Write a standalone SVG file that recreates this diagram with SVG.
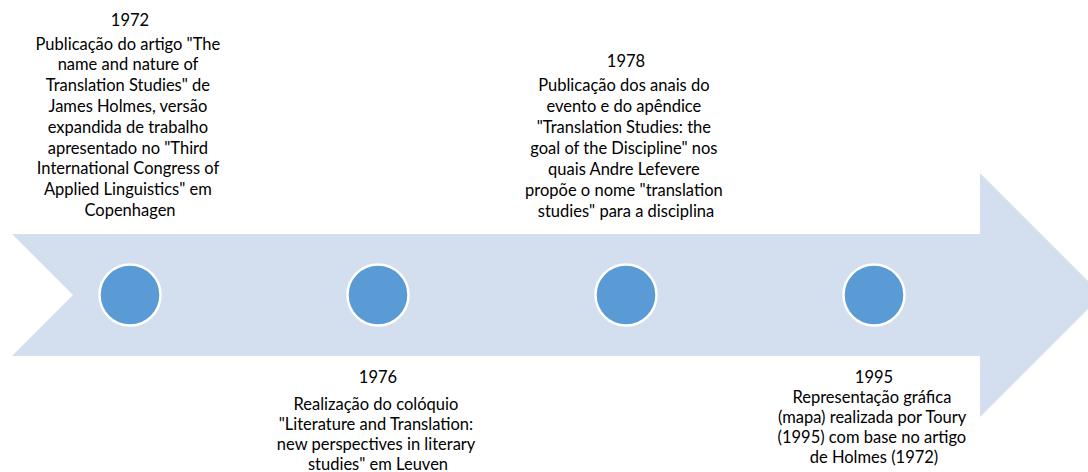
<svg xmlns="http://www.w3.org/2000/svg" width="1088" height="472" viewBox="0 0 1088 472">
  <style>
    .band { fill: #D3DEEF; }
    .dot { fill: #5B9BD5; stroke: #FFFFFF; stroke-width: 2.5; }
    .lbl { font-family: Lato, "Liberation Sans", sans-serif; font-size: 16.5px; fill: #000000; text-anchor: middle; }
  </style>

  <!-- timeline band: notched tail, wide arrow head running off the right edge -->
  <g id="timeline">
    <polygon class="band" points="12,234 980,234 980,173 1102,295 980,417 980,356 12,356 73,295"/>
  </g>

  <!-- milestone markers -->
  <g id="m1972"><circle class="dot" cx="130" cy="295" r="30.5"/></g>
  <g id="m1976"><circle class="dot" cx="378" cy="295" r="30.5"/></g>
  <g id="m1978"><circle class="dot" cx="626" cy="295" r="30.5"/></g>
  <g id="m1995"><circle class="dot" cx="874" cy="295" r="30.5"/></g>

  <!-- milestone texts -->
  <g id="t1972">
    <text class="lbl" x="130" y="26">1972</text>
    <text class="lbl" x="130" y="49.5">
      <tspan x="130" dy="0">Publicação do artigo "The</tspan>
      <tspan x="130" dy="20.8">name and nature of</tspan>
      <tspan x="130" dy="20.8">Translation Studies" de</tspan>
      <tspan x="130" dy="20.8">James Holmes, versão</tspan>
      <tspan x="130" dy="20.8">expandida de trabalho</tspan>
      <tspan x="130" dy="20.8">apresentado no "Third</tspan>
      <tspan x="130" dy="20.8">International Congress of</tspan>
      <tspan x="130" dy="20.8">Applied Linguistics" em</tspan>
      <tspan x="130" dy="20.8">Copenhagen</tspan>
    </text>
  </g>

  <g id="t1976">
    <text class="lbl" x="378" y="382.5">1976</text>
    <text class="lbl" x="378" y="410">
      <tspan x="378" dy="0">Realização do colóquio</tspan>
      <tspan x="378" dy="20">"Literature and Translation:</tspan>
      <tspan x="378" dy="20">new perspectives in literary</tspan>
      <tspan x="378" dy="19.5">studies" em Leuven</tspan>
    </text>
  </g>

  <g id="t1978">
    <text class="lbl" x="626" y="67">1978</text>
    <text class="lbl" x="626" y="91">
      <tspan x="626" dy="0">Publicação dos anais do</tspan>
      <tspan x="626" dy="21">evento e do apêndice</tspan>
      <tspan x="626" dy="21">"Translation Studies: the</tspan>
      <tspan x="626" dy="21">goal of the Discipline" nos</tspan>
      <tspan x="626" dy="21">quais Andre Lefevere</tspan>
      <tspan x="626" dy="21">propõe o nome "translation</tspan>
      <tspan x="626" dy="21">studies" para a disciplina</tspan>
    </text>
  </g>

  <g id="t1995">
    <text class="lbl" x="874" y="382.5">1995</text>
    <text class="lbl" x="874" y="403.3">
      <tspan x="874" dy="0">Representação gráfica</tspan>
      <tspan x="874" dy="20">(mapa) realizada por Toury</tspan>
      <tspan x="874" dy="20">(1995) com base no artigo</tspan>
      <tspan x="874" dy="20">de Holmes (1972)</tspan>
    </text>
  </g>
</svg>
